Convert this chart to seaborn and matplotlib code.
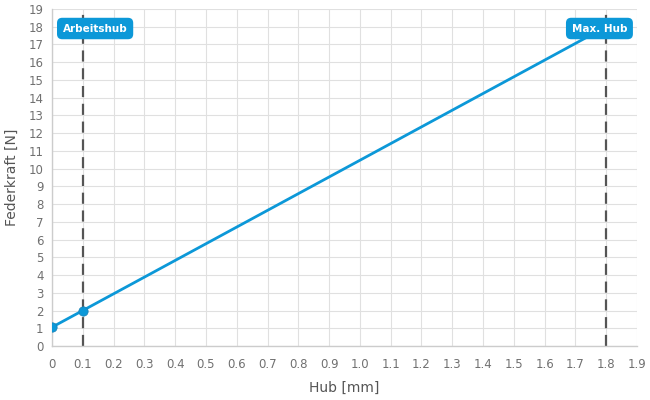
import pandas as pd
import seaborn as sns
import matplotlib.pyplot as plt

# data
hub = [0.0, 0.1, 1.8]
kraft = [1.06, 2.0, 18.0]
punkte_hub = [0.0, 0.1]
punkte_kraft = [1.06, 2.0]
marken = [0.1, 1.8]
marken_text = ["Arbeitshub", "Max. Hub"]

df = pd.DataFrame({"Hub": hub, "Kraft": kraft})
pts = pd.DataFrame({"Hub": punkte_hub, "Kraft": punkte_kraft})

sns.set_style("whitegrid")
plt.rcParams['font.family'] = ['DejaVu Sans']

blau = "#0c98d8"
fig = plt.figure(figsize=(6.5, 4), dpi=100)
ax = fig.add_axes([0.08, 0.135, 0.90, 0.8425])

for x in marken:
    ax.axvline(x, color="#555555", lw=1.6, ls=(0, (5, 3)), zorder=2)

sns.lineplot(x="Hub", y="Kraft", data=df, color=blau, lw=2, ax=ax, zorder=3)
sns.scatterplot(x="Hub", y="Kraft", data=pts, color=blau, s=45, edgecolor="#1a82b5", ax=ax, zorder=4)

# label boxes
offs = [0.04, -0.022]
for x, t, o in zip(marken, marken_text, offs):
    ax.text(x + o, 17.9, t, ha="center", va="center", color="white", fontsize=7.5, fontweight="bold",
            bbox=dict(boxstyle="round,pad=0.55,rounding_size=0.5", fc=blau, ec="none"), zorder=5)

ax.set_xlim(0, 1.9)
ax.set_ylim(0, 19)
ax.set_xticks([i / 10 for i in range(20)])
ax.set_xticklabels(["0"] + [f"{i/10:.1f}" for i in range(1, 20)])
ax.set_yticks(range(20))
ax.grid(color="#e0e0e0", lw=0.8)
for s in ["top", "right"]:
    ax.spines[s].set_visible(False)
for s in ["left", "bottom"]:
    ax.spines[s].set_color("#cccccc")
    ax.spines[s].set_linewidth(1)
ax.tick_params(axis="both", colors="#cccccc", labelcolor="#707070", labelsize=8.5, length=5, width=0.8)
ax.tick_params(axis="y", length=0, pad=6)
ax.set_xlabel("Hub [mm]", fontsize=10, color="#555555", labelpad=7)
ax.set_ylabel("Federkraft [N]", fontsize=10, color="#555555")
ax.yaxis.set_label_coords(-0.056, 0.5)

plt.savefig("out.png", dpi=100)
